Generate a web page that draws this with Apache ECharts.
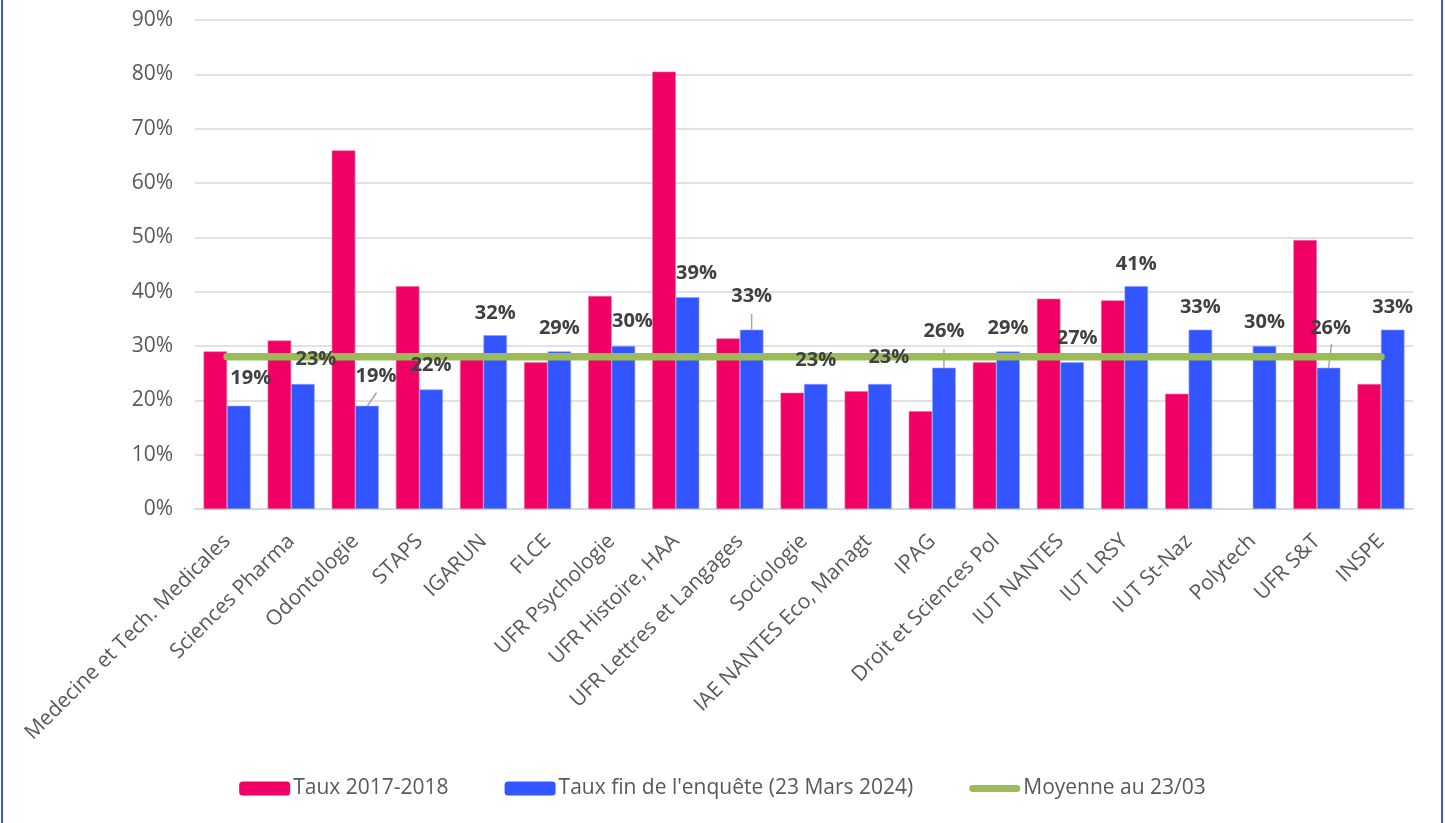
<!DOCTYPE html>
<html>
<head>
<meta charset="utf-8">
<script src="https://cdn.jsdelivr.net/npm/echarts@6/dist/echarts.min.js"></script>
<style>
  html, body { margin: 0; padding: 0; background: #ffffff; }
  #wrap { position: relative; width: 1445px; height: 823px; }
  #chart { width: 1445px; height: 823px; }
  .edge { position: absolute; top: 0; width: 2px; height: 823px; background: #3355ff; }
</style>
</head>
<body>
<div id="wrap">
  <div id="chart"></div>
  <div class="edge" style="left:1px"></div>
  <div class="edge" style="left:1441px"></div>
</div>
<script>
const categories = [
  'Medecine et Tech. Medicales', 'Sciences Pharma', 'Odontologie', 'STAPS', 'IGARUN',
  'FLCE', 'UFR Psychologie', 'UFR Histoire, HAA', 'UFR Lettres et Langages', 'Sociologie',
  'IAE NANTES Eco, Managt', 'IPAG', 'Droit et Sciences Pol', 'IUT NANTES', 'IUT LRSY',
  'IUT St-Naz', 'Polytech', 'UFR S&T', 'INSPE'
];
const taux2017 = [29, 31, 66, 41, 28, 27, 39.2, 80.5, 31.4, 21.4, 21.7, 18, 27, 38.7, 38.4, 21.2, null, 49.5, 23];
const tauxFin2024 = [19, 23, 19, 22, 32, 29, 30, 39, 33, 23, 23, 26, 29, 27, 41, 33, 30, 26, 33];
const moyenne = [28, 28, 28, 28, 28, 28, 28, 28, 28, 28, 28, 28, 28, 28, 28, 28, 28, 28, 28];
const yTicks = { min: 0, max: 90, interval: 10 };
const seriesNames = ['Taux 2017-2018', "Taux fin de l'enquête (23 Mars 2024)", 'Moyenne au 23/03'];

// styling only: label nudges [dx, dy] in px, leader-line shapes [dxBottom, dxTop, length] in px
const labelOffsets = [[12,-5],[13,-3],[9,-7],[0,-2],[0,0],[0,-1],[9,-3],[9,-2],[0,-11],[0,-2],[9,-5],[0,-14],[0,-1],[5,-2],[0,0],[0,0],[0,-2],[2,-17],[0,0]];
const leaderStyle = { 2: [0.5, 9.5, 13], 8: [0, 0, 16], 11: [0, 0, 19], 17: [0, 3, 24] };

const FONT = '"Open Sans", "Noto Sans", sans-serif';
const BAR_W = 23.5;
const chart = echarts.init(document.getElementById('chart'), null, { renderer: 'canvas' });

const labelData = tauxFin2024.map((v, i) => [i, v]);
const leaderData = Object.keys(leaderStyle).map(k => [Number(k), tauxFin2024[Number(k)]]);

chart.setOption({
  animation: false,
  backgroundColor: '#ffffff',
  textStyle: { fontFamily: FONT },
  grid: { left: 195, right: 32, top: 20, bottom: 314, containLabel: false },
  legend: {
    data: [
      { name: seriesNames[0] },
      { name: seriesNames[1] },
      { name: seriesNames[2], icon: 'path://M4,0 L55,0 A4,4 0 0 1 55,8 L4,8 A4,4 0 0 1 4,0 Z', itemStyle: { color: '#9bbb59' } }
    ],
    bottom: 19,
    left: 'center',
    itemWidth: 51,
    itemHeight: 14,
    itemGap: 56,
    textStyle: { fontFamily: FONT, fontSize: 21, color: '#595959', padding: [0, 0, 0, -2] },
    itemStyle: { borderWidth: 0 }
  },
  xAxis: {
    type: 'category',
    data: categories,
    axisLine: { show: true, lineStyle: { color: '#d9d9d9', width: 2 } },
    axisTick: { show: false },
    axisLabel: {
      interval: 0,
      rotate: 45,
      margin: 29,
      fontFamily: FONT,
      fontSize: 21,
      color: '#595959'
    }
  },
  yAxis: {
    type: 'value',
    min: yTicks.min,
    max: yTicks.max,
    interval: yTicks.interval,
    axisLine: { show: false },
    axisTick: { show: false },
    splitLine: { lineStyle: { color: '#d9d9d9', width: 1.5 } },
    axisLabel: {
      formatter: '{value}%',
      margin: 22,
      fontFamily: FONT,
      fontSize: 21,
      color: '#595959'
    }
  },
  series: [
    {
      name: seriesNames[0],
      type: 'bar',
      data: taux2017,
      barWidth: BAR_W,
      barGap: '0%',
      itemStyle: { color: '#f00064', borderColor: '#f46c9c', borderWidth: 0.6 },
      z: 2
    },
    {
      name: seriesNames[1],
      type: 'bar',
      data: tauxFin2024,
      barWidth: BAR_W,
      barGap: '0%',
      itemStyle: { color: '#3355ff', borderColor: '#8fa0ff', borderWidth: 0.6 },
      z: 2
    },
    {
      name: 'leaders',
      type: 'custom',
      data: leaderData,
      silent: true,
      z: 2.5,
      renderItem: function (params, api) {
        const i = api.value(0);
        const p = api.coord([i, api.value(1)]);
        const s = leaderStyle[i];
        const cx = p[0] + BAR_W / 2;
        return {
          type: 'line',
          shape: { x1: cx + s[0], y1: p[1], x2: cx + s[1], y2: p[1] - s[2] },
          style: { stroke: '#a6a6a6', lineWidth: 1.5 }
        };
      }
    },
    {
      name: seriesNames[2],
      type: 'line',
      data: moyenne,
      symbol: 'none',
      lineStyle: { color: '#9bbb59', width: 7.5, cap: 'round' },
      itemStyle: { color: '#9bbb59' },
      z: 3
    },
    {
      name: 'labels',
      type: 'custom',
      data: labelData,
      silent: true,
      z: 5,
      renderItem: function (params, api) {
        const i = api.value(0);
        const v = api.value(1);
        const p = api.coord([i, v]);
        const o = labelOffsets[i];
        return {
          type: 'text',
          x: p[0] + BAR_W / 2 + o[0],
          y: p[1] - 22 + o[1],
          style: {
            text: v + '%',
            fill: '#404040',
            fontFamily: FONT,
            fontSize: 20,
            fontWeight: 'bold',
            align: 'center',
            verticalAlign: 'middle'
          }
        };
      }
    }
  ]
});
</script>
</body>
</html>
